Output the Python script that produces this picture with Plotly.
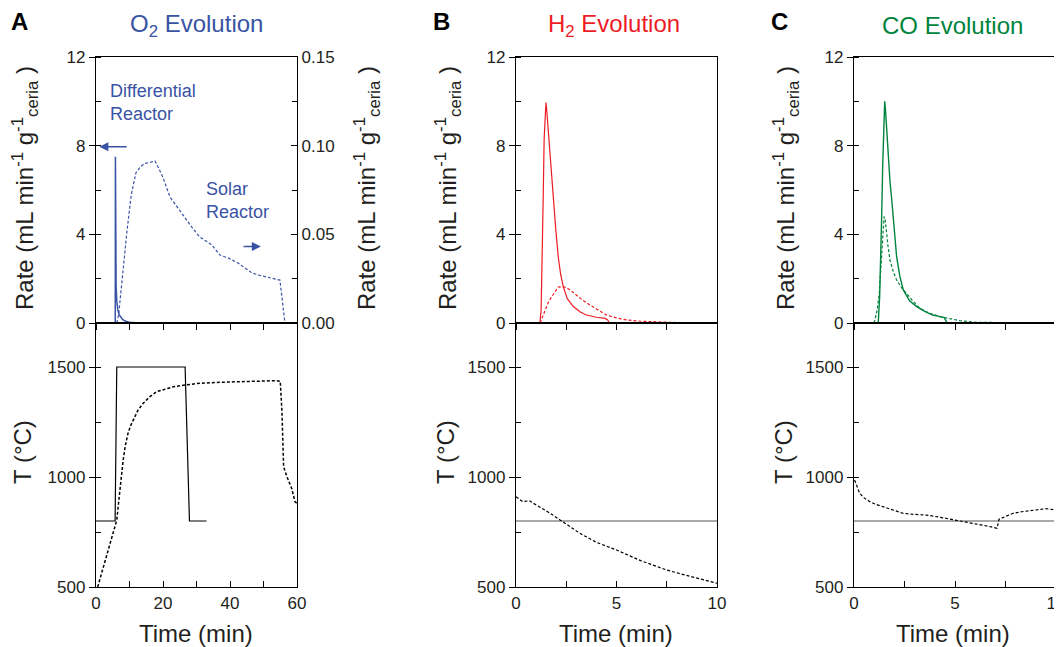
import plotly.graph_objects as go

# ---------------- data ----------------
# Panel A (O2 evolution), time in min
a_diff_t = [0, 5.75, 5.8, 5.9, 6.0, 6.2, 6.5, 6.9, 7.4, 8, 9, 10, 12, 15, 20]
a_diff_rate = [0, 0, 7.5, 3.0, 1.7, 1.0, 0.6, 0.38, 0.25, 0.15, 0.07, 0.03, 0.01, 0, 0]

a_solar_t = [6.2, 6.8, 7.2, 8.0, 9.2, 10.5, 11.9, 13.2, 14.5, 16.0, 17.6, 18.8, 20.0, 22.1,
             24.0, 26.6, 29.0, 31.0, 33.0, 34.6, 37.0, 39.4, 42.4, 44.5, 46.6, 49.0, 51.0,
             54.9, 56.4, 60]
a_solar_rate = [0, 0.005, 0.013, 0.030, 0.051, 0.072, 0.0846, 0.088, 0.090, 0.0905, 0.0914,
                0.087, 0.082, 0.071, 0.066, 0.0598, 0.053, 0.0485, 0.046, 0.044, 0.0383,
                0.0367, 0.0338, 0.031, 0.0282, 0.0268, 0.026, 0.0242, 0, 0]

a_set_t = [0, 5.7, 6.2, 26.6, 27.9, 33]
a_set_T = [800, 800, 1500, 1500, 800, 800]

a_meas_t = [0.5, 5.7, 6.2, 7.0, 7.5, 8.1, 8.7, 9.5, 10.3, 11.1, 12.5, 14.1, 16.0, 18.1, 20.5,
            23.1, 27.0, 31, 36, 41, 47, 54, 55.0, 55.5, 56, 57, 58.4, 59.4, 60]
a_meas_T = [500, 767, 804, 920, 1000, 1075, 1138, 1195, 1232, 1259, 1303, 1335, 1364, 1388,
            1400, 1410, 1419, 1426, 1430, 1433, 1436, 1438, 1435, 1300, 1047, 1001, 949,
            888, 880]

# Panel B (H2 evolution)
b_diff_t = [0, 1.19, 1.25, 1.30, 1.35, 1.40, 1.45, 1.49, 1.53, 1.58, 1.65, 1.75, 1.86, 1.98,
            2.1, 2.22, 2.35, 2.55, 2.85, 3.2, 3.5, 4.0, 4.43, 4.55, 4.65, 10]
b_diff_rate = [0, 0, 0.6, 2.6, 5.5, 8.3, 9.7, 9.95, 9.6, 9.0, 7.9, 6.6, 5.5, 4.2, 3.0, 2.2,
               1.64, 1.1, 0.74, 0.5, 0.36, 0.26, 0.21, 0.15, 0.0, 0]

b_solar_t = [1.2, 1.3, 1.44, 1.6, 1.78, 1.95, 2.1, 2.3, 2.5, 2.75, 3.0, 3.3, 3.68, 4.1, 4.5,
             5.0, 5.5, 6.2, 6.85, 8.0, 10]
b_solar_rate = [0, 0.25, 0.59, 0.92, 1.19, 1.45, 1.62, 1.64, 1.6, 1.45, 1.26, 1.04, 0.81,
                0.56, 0.36, 0.23, 0.14, 0.08, 0.05, 0.02, 0]

b_set_t = [0, 10]
b_set_T = [800, 800]

b_meas_t = [0, 0.33, 0.66, 1.16, 1.7, 2.19, 2.7, 3.18, 4.0, 5.0, 6.2, 7.5, 8.8, 10]
b_meas_T = [910, 888, 892, 865, 835, 805, 772, 744, 703, 668, 620, 577, 545, 517]

# Panel C (CO evolution)
c_diff_t = [0, 1.2, 1.27, 1.32, 1.37, 1.42, 1.47, 1.52, 1.56, 1.62, 1.7, 1.78, 1.87, 1.98,
            2.11, 2.27, 2.44, 2.75, 3.1, 3.5, 3.9, 4.2, 4.47, 4.6, 10]
c_diff_rate = [0, 0, 1.2, 2.54, 4.8, 7.05, 9.0, 10.0, 9.6, 8.56, 7.4, 6.4, 5.55, 4.2, 2.99,
               2.1, 1.49, 1.0, 0.74, 0.52, 0.36, 0.3, 0.24, 0.02, 0]

c_solar_t = [1.0, 1.15, 1.25, 1.32, 1.38, 1.44, 1.49, 1.54, 1.58, 1.68, 1.78, 1.95, 2.11,
             2.35, 2.6, 2.9, 3.27, 3.7, 4.26, 4.8, 5.25, 6.07, 10]
c_solar_rate = [0, 0.6, 1.34, 2.4, 3.6, 4.4, 4.8, 4.7, 4.3, 3.5, 2.84, 2.3, 1.94, 1.6, 1.34,
                1.0, 0.66, 0.45, 0.29, 0.17, 0.1, 0.03, 0]

c_set_t = [0, 10]
c_set_T = [800, 800]

c_meas_t = [0.03, 0.28, 0.5, 0.78, 1.1, 1.44, 1.9, 2.43, 3.0, 3.58, 4.2, 4.9, 5.5, 6.06,
            6.6, 7.08, 7.18, 7.5, 7.87, 8.3, 8.86, 9.5, 10]
c_meas_T = [986, 926, 905, 888, 875, 865, 848, 835, 830, 827, 818, 805, 796, 786, 777, 767,
            808, 822, 835, 842, 850, 856, 850]

# ---------------- style ----------------
FONT = "Liberation Sans, Arial, sans-serif"
INK = "#231f20"
BLUE = "#3953a4"
RED = "#ed1c24"
GREEN = "#00843d"
OFF = 8                      # page body margin in the browser
W, H = 1062 - OFF, 647 - OFF

def px_x(p):
    return (p - OFF) / W

def px_y(p):
    return 1 - (p - OFF) / H

cols = {
    "A": (px_x(96), px_x(297)),
    "B": (px_x(516), px_x(717)),
    "C": (px_x(854), px_x(1056)),
}
top_dom = (px_y(323), px_y(57))
bot_dom = (px_y(587), px_y(323))

fig = go.Figure()

dash = "3px,2px"

def line(x, y, color, xa, ya, dashed=False, width=1.2):
    fig.add_trace(go.Scatter(
        x=x, y=y, mode="lines", xaxis=xa, yaxis=ya, showlegend=False,
        line=dict(color=color, width=width, dash=dash if dashed else "solid"),
        hoverinfo="skip"))

# Panel A
line(a_diff_t, a_diff_rate, BLUE, "x", "y", width=1.5)
line(a_solar_t, a_solar_rate, BLUE, "x", "y3", dashed=True)
line(a_set_t, a_set_T, "black", "x2", "y2")
line(a_meas_t, a_meas_T, "black", "x2", "y2", dashed=True, width=1.5)
# Panel B
line(b_diff_t, b_diff_rate, RED, "x4", "y4")
line(b_solar_t, b_solar_rate, RED, "x4", "y4", dashed=True)
line(b_set_t, b_set_T, "#555555", "x5", "y5")
line(b_meas_t, b_meas_T, "black", "x5", "y5", dashed=True)
# Panel C
line(c_diff_t, c_diff_rate, GREEN, "x6", "y6", width=1.4)
line(c_solar_t, c_solar_rate, GREEN, "x6", "y6", dashed=True)
line(c_set_t, c_set_T, "#555555", "x7", "y7")
line(c_meas_t, c_meas_T, "black", "x7", "y7", dashed=True)

tickfont = dict(family=FONT, size=17, color=INK)
common = dict(showline=True, linecolor="black", linewidth=1.3, showgrid=False,
              zeroline=False, tickcolor="black", tickwidth=1.2, ticklen=6,
              tickfont=tickfont, automargin=False)

def xaxes(name_top, name_bot, ytop, ybot, dom, rng, dt, mdt):
    fig.layout[name_top] = dict(
        common, domain=dom, range=rng, anchor=ytop, dtick=dt, tick0=0,
        ticks="outside", showticklabels=False, mirror=True,
        minor=dict(dtick=mdt, tick0=0, ticks="outside", ticklen=6, tickcolor="black"))
    fig.layout[name_bot] = dict(
        common, domain=dom, range=rng, anchor=ybot, dtick=dt, tick0=0,
        ticks="inside", mirror=True, ticklabeloverflow="allow",
        minor=dict(dtick=mdt, tick0=0, ticks="inside", ticklen=6, tickcolor="black"))

def yaxes(name_top, name_bot, xtop, xbot):
    fig.layout[name_top] = dict(
        common, domain=top_dom, range=[0, 12], anchor=xtop, dtick=4, tick0=0,
        ticks="outside", mirror=True,
        minor=dict(dtick=2, tick0=0, ticks="inside", ticklen=5, tickcolor="black"))
    fig.layout[name_bot] = dict(
        common, domain=bot_dom, range=[500, 1700], anchor=xbot,
        tickvals=[500, 1000, 1500], ticks="outside", mirror=True,
        minor=dict(dtick=250, tick0=500, ticks="inside", ticklen=5, tickcolor="black"))

xaxes("xaxis", "xaxis2", "y", "y2", cols["A"], [0, 60], 20, 10)
yaxes("yaxis", "yaxis2", "x", "x2")
fig.layout["yaxis3"] = dict(
    common, domain=top_dom, range=[0, 0.15], overlaying="y", side="right", anchor="x",
    tickvals=[0, 0.05, 0.10, 0.15], ticktext=["0.00", "0.05", "0.10", "0.15"],
    ticks="inside", minor=dict(dtick=0.025, tick0=0, ticks="inside", ticklen=5, tickcolor="black"))
xaxes("xaxis4", "xaxis5", "y4", "y5", cols["B"], [0, 10], 5, 2.5)
yaxes("yaxis4", "yaxis5", "x4", "x5")
xaxes("xaxis6", "xaxis7", "y6", "y7", cols["C"], [0, 10], 5, 2.5)
yaxes("yaxis6", "yaxis7", "x6", "x7")

ann = []

def text(x, y, s, size=24, color=INK, angle=0, bold=False, xanchor="center", yanchor="middle",
         xref="paper", yref="paper", align="center"):
    ann.append(dict(x=x, y=y, xref=xref, yref=yref, text=s, showarrow=False,
                    textangle=angle, xanchor=xanchor, yanchor=yanchor, align=align,
                    font=dict(family=FONT, size=size, color=color,
                              weight="bold" if bold else "normal")))

rate_title = "Rate (mL min<sup>-1</sup> g<sup>-1</sup><sub>ceria</sub> )"
for letter, lx, title, tcolor, tx, rx, cx in [
        ("A", 19, "O<sub>2</sub> Evolution", BLUE, 196, 25, 196),
        ("B", 441, "H<sub>2</sub> Evolution", RED, 614, 448, 616),
        ("C", 779, "CO Evolution", GREEN, 952, 786, 953)]:
    text(px_x(lx), px_y(22), letter, size=24, bold=True, color="black")
    text(px_x(tx), px_y(25), title, size=24, color=tcolor)
    text(px_x(rx), px_y(188), rate_title, size=24, angle=-90)
    text(px_x(rx - 3), px_y(452), "T (°C)", size=24, angle=-90)
    text(px_x(cx), px_y(633), "Time (min)", size=24)

text(px_x(367), px_y(188), rate_title, size=24, angle=-90)

# in-plot labels of panel A
text(3.6, 11.0, "Differential<br>Reactor", size=18, color=BLUE, xanchor="left",
     yanchor="top", xref="x", yref="y", align="left")
text(32.2, 6.6, "Solar<br>Reactor", size=18, color=BLUE, xanchor="left",
     yanchor="top", xref="x", yref="y", align="left")
# arrows
ann.append(dict(x=1.0, y=7.95, ax=9.6, ay=7.95, xref="x", yref="y", axref="x", ayref="y",
                showarrow=True, arrowhead=2, arrowsize=1.2, arrowwidth=1.5, arrowcolor=BLUE, text=""))
ann.append(dict(x=49.2, y=3.45, ax=43.6, ay=3.45, xref="x", yref="y", axref="x", ayref="y",
                showarrow=True, arrowhead=2, arrowsize=1.2, arrowwidth=1.5, arrowcolor=BLUE, text=""))

fig.update_layout(
    width=W, height=H, margin=dict(l=0, r=0, t=0, b=0, pad=0, autoexpand=False),
    paper_bgcolor="white", plot_bgcolor="white",
    annotations=ann, showlegend=False,
    font=dict(family=FONT, color=INK),
)

fig.write_html("out.html")
